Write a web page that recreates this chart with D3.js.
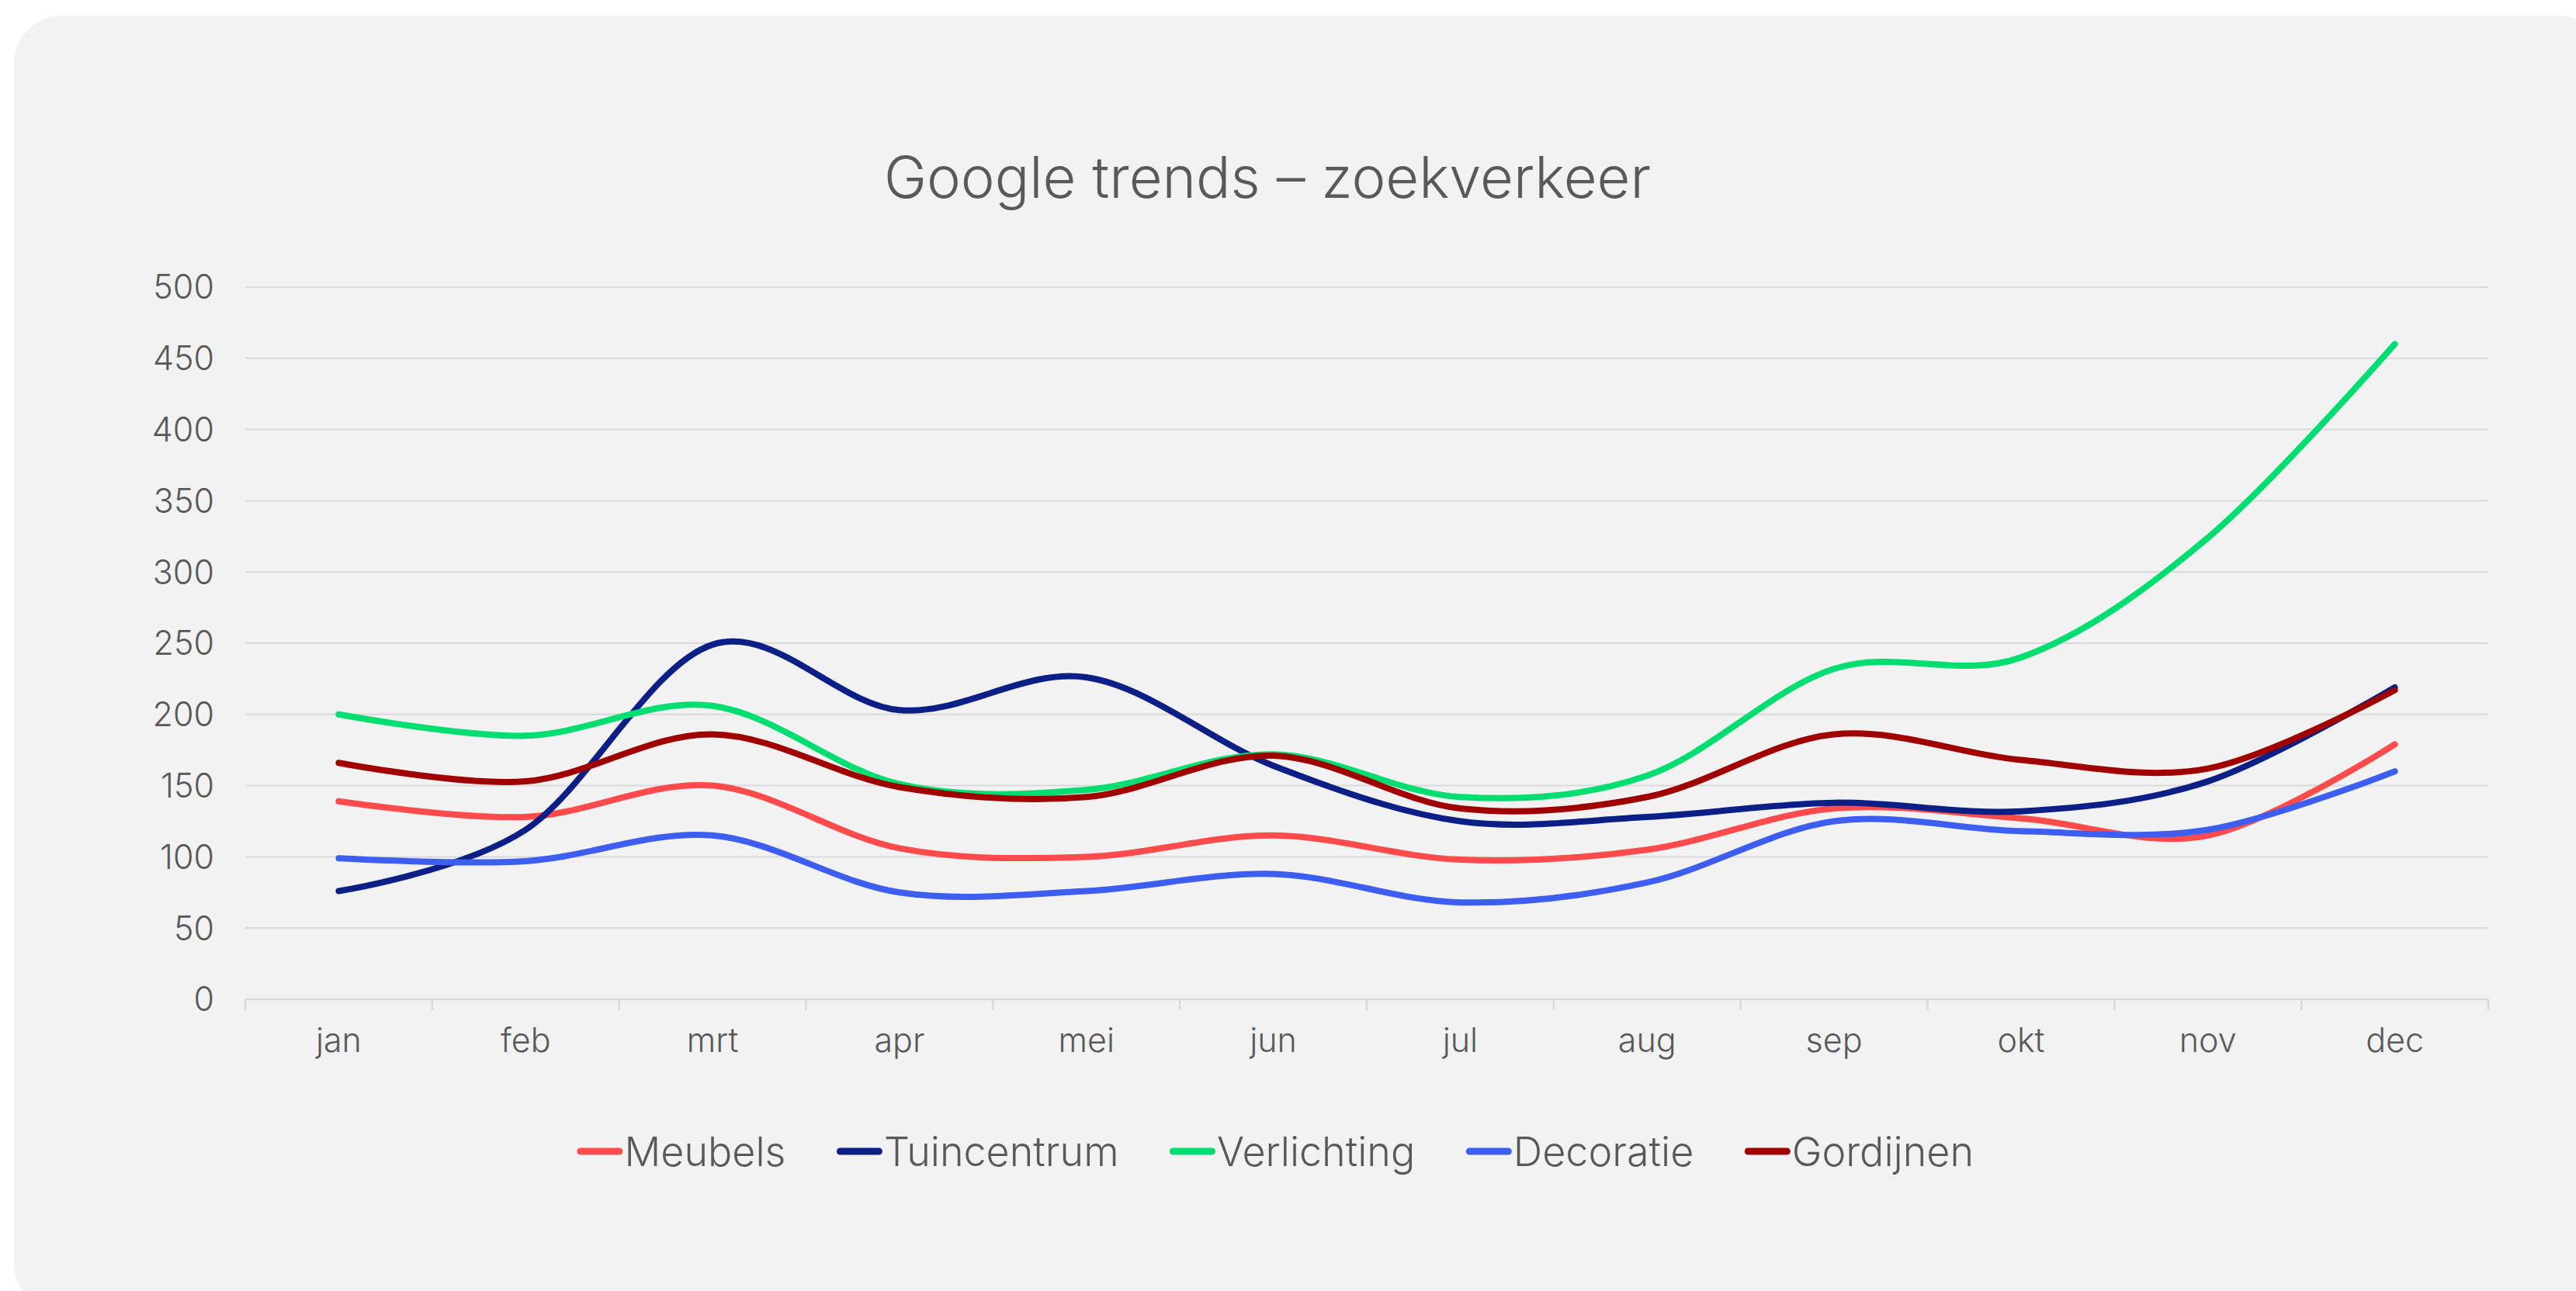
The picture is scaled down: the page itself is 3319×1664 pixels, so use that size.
<!DOCTYPE html>
<html>
<head>
<meta charset="utf-8">
<script src="https://cdn.jsdelivr.net/npm/d3@7.9.0/dist/d3.min.js"></script>
<style>
  html, body { margin: 0; padding: 0; background: #ffffff; }
  svg { display: block; }
  text { font-family: "Inter", "Lato", sans-serif; font-weight: 300; fill: #595959; }
</style>
</head>
<body>
<svg id="chart" width="3319" height="1664"></svg>
<script>
const months = ["jan", "feb", "mrt", "apr", "mei", "jun", "jul", "aug", "sep", "okt", "nov", "dec"];
const seriesNames = ["Meubels", "Tuincentrum", "Verlichting", "Decoratie", "Gordijnen"];
const meubels = [139, 128, 150, 106, 100, 115, 98, 105, 134, 127, 115, 179];
const tuincentrum = [76, 119, 249, 203, 226, 164, 125, 128, 138, 132, 153, 219];
const verlichting = [200, 185, 206, 151, 147, 172, 142, 157, 232, 240, 324, 460];
const decoratie = [99, 97, 115, 75, 76, 88, 68, 82, 125, 118, 119, 160];
const gordijnen = [166, 153, 186, 149, 142, 171, 134, 142, 186, 168, 162, 217];
const yTicks = [0, 50, 100, 150, 200, 250, 300, 350, 400, 450, 500];
const colors = ["#ff4b4b", "#0c1f86", "#00de72", "#3d5ef0", "#a00000"];

const allValues = [meubels, tuincentrum, verlichting, decoratie, gordijnen];
const series = seriesNames.map((name, i) => ({ name, values: allValues[i], color: colors[i] }));

const svg = d3.select("#chart");

// card background
svg.append("rect")
  .attr("x", 18).attr("y", 20)
  .attr("width", 3340).attr("height", 1670)
  .attr("rx", 62).attr("ry", 62)
  .attr("fill", "#f2f2f2");

const plotLeft = 316, plotRight = 3206, plotTop = 370, plotBottom = 1288;

const x = d3.scaleBand().domain(months).range([plotLeft, plotRight]);
const y = d3.scaleLinear().domain([0, 500]).range([plotBottom, plotTop]);

// title
svg.append("text")
  .attr("x", 1633).attr("y", 255)
  .attr("text-anchor", "middle")
  .style("font-size", "74px")
  .text("Google trends \u2013 zoekverkeer");

// gridlines
svg.append("g")
  .selectAll("line")
  .data(yTicks.filter((d) => d > 0))
  .join("line")
  .attr("x1", plotLeft).attr("x2", plotRight)
  .attr("y1", (d) => y(d)).attr("y2", (d) => y(d))
  .attr("stroke", "#d9d9d9")
  .attr("stroke-width", 2);

// y labels
svg.append("g")
  .selectAll("text")
  .data(yTicks)
  .join("text")
  .attr("x", 276)
  .attr("y", (d) => y(d))
  .attr("dy", "0.36em")
  .attr("text-anchor", "end")
  .style("font-size", "43px")
  .text((d) => d);

// x axis line + ticks
const xAxis = svg.append("g");
xAxis.append("line")
  .attr("x1", plotLeft).attr("x2", plotRight)
  .attr("y1", y(0)).attr("y2", y(0))
  .attr("stroke", "#d9d9d9")
  .attr("stroke-width", 2.5);
xAxis.selectAll("line.tick")
  .data(months.map((m) => x(m)).concat([plotRight]))
  .join("line")
  .attr("class", "tick")
  .attr("x1", (d) => d).attr("x2", (d) => d)
  .attr("y1", y(0)).attr("y2", y(0) + 14)
  .attr("stroke", "#d9d9d9")
  .attr("stroke-width", 2.5);
xAxis.selectAll("text")
  .data(months)
  .join("text")
  .attr("x", (d) => x(d) + x.bandwidth() / 2)
  .attr("y", 1356)
  .attr("text-anchor", "middle")
  .style("font-size", "43px")
  .text((d) => d);

// lines
const line = d3.line()
  .x((d, i) => x(months[i]) + x.bandwidth() / 2)
  .y((d) => y(d))
  .curve(d3.curveCardinal.tension(0));

svg.append("g")
  .selectAll("path")
  .data(series)
  .join("path")
  .attr("d", (d) => line(d.values))
  .attr("fill", "none")
  .attr("stroke", (d) => d.color)
  .attr("stroke-width", 8)
  .attr("stroke-linecap", "round")
  .attr("stroke-linejoin", "round");

// legend
const legend = svg.append("g");
const swatchW = 59, gapText = 2, gapItem = 70;
const items = legend.selectAll("g")
  .data(series)
  .join("g");
items.append("line")
  .attr("x1", 4.5).attr("x2", swatchW - 4.5)
  .attr("y1", 0).attr("y2", 0)
  .attr("stroke", (d) => d.color)
  .attr("stroke-width", 9)
  .attr("stroke-linecap", "round");
items.append("text")
  .attr("x", swatchW + gapText)
  .attr("y", 0)
  .attr("dy", "0.36em")
  .style("font-size", "52px")
  .text((d) => d.name);

let cursor = 0;
const offsets = [];
items.each(function () {
  offsets.push(cursor);
  cursor += this.getBBox().width + gapItem;
});
const totalW = cursor - gapItem;
const startX = 1641 - totalW / 2;
items.attr("transform", (d, i) => `translate(${startX + offsets[i]},1484)`);
</script>
</body>
</html>
